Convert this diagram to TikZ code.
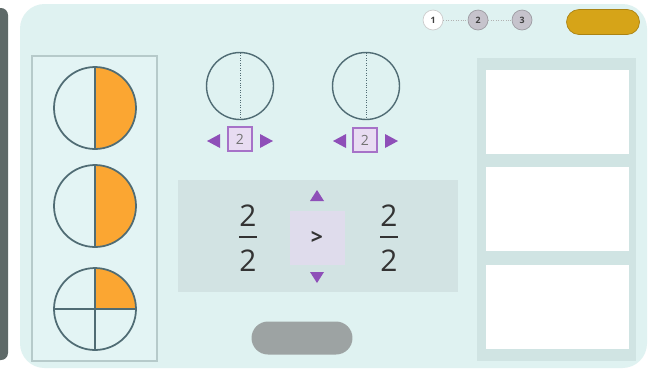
\documentclass[tikz,border=0pt]{standalone}
\usepackage{fontspec}
\setmainfont{Open Sans}
\definecolor{panel}{HTML}{DFF2F1}
\definecolor{strip}{HTML}{5E6968}
\definecolor{trayfill}{HTML}{E3F4F4}
\definecolor{trayrim}{HTML}{B6CACA}
\definecolor{rim}{HTML}{506C74}
\definecolor{part}{HTML}{FBA632}
\definecolor{cmpfill}{HTML}{D2E3E3}
\definecolor{lav}{HTML}{DFDCEC}
\definecolor{violet}{HTML}{8E4FB8}
\definecolor{boxrim}{HTML}{A672C8}
\definecolor{boxfill}{HTML}{E8DCF2}
\definecolor{stepgray}{HTML}{C6C3CC}
\definecolor{gold}{HTML}{D6A418}
\definecolor{btngray}{HTML}{9DA3A3}
\definecolor{colfill}{HTML}{D0E4E3}

\begin{document}
\begin{tikzpicture}[x=0.02cm,y=-0.02cm]
\tikzset{numbox/.style={draw=boxrim, fill=boxfill, line width=1pt, minimum size=0.48cm, inner sep=0pt, text=gray!90!black, font=\footnotesize},
stepnode/.style={circle, draw=#1!80!black, fill=#1, minimum size=0.4cm, inner sep=0pt, text=gray!50!black, font=\tiny\bfseries},
ansbox/.style={fill=white, minimum width=2.86cm, minimum height=1.68cm},
digit/.style={text=black!80, font=\fontsize{17}{20}\selectfont}}
\useasboundingbox (0,0) rectangle (651,369);
\fill[white] (0,0) rectangle (651,369);
\fill[strip, rounded corners=4pt] (-10,8) rectangle (8,360);
\fill[panel, rounded corners=14pt] (20,4) rectangle (647,368);
\filldraw[fill=trayfill, draw=trayrim, line width=0.6pt] (32,56) rectangle (157,361);
\begin{scope}
\clip (95,108) circle[radius=0.82cm];
\fill[part] (95,60) rectangle (140,160);
\end{scope}
\draw[rim, line width=1pt] (95,108) circle[radius=0.82cm] (95,67) -- (95,149);
\begin{scope}
\clip (95,206) circle[radius=0.82cm];
\fill[part] (95,160) rectangle (140,250);
\end{scope}
\draw[rim, line width=1pt] (95,206) circle[radius=0.82cm] (95,165) -- (95,247);
\begin{scope}
\clip (95,309) circle[radius=0.82cm];
\fill[part] (95,260) rectangle (140,309);
\end{scope}
\draw[rim, line width=1pt] (95,309) circle[radius=0.82cm] (95,268) -- (95,350) (54,309) -- (136,309);
\draw[rim, line width=0.8pt] (240,86) circle[radius=0.67cm];
\draw[rim, densely dotted] (240,53) -- (240,119);
\draw[rim, line width=0.8pt] (366,86) circle[radius=0.67cm];
\draw[rim, densely dotted] (366,53) -- (366,119);
\node[numbox] (n1) at (240,139) {2};
\node[numbox] (n2) at (365,140) {2};
\fill[violet] (207,141) -- (220,134) -- (220,148) -- cycle;
\fill[violet] (273,141) -- (260,134) -- (260,148) -- cycle;
\fill[violet] (333,141) -- (346,134) -- (346,148) -- cycle;
\fill[violet] (398,141) -- (385,134) -- (385,148) -- cycle;
\fill[cmpfill] (178,180) rectangle (458,292);
\fill[lav] (290,211) rectangle (345,265);
\node[digit] (top1) at (248,216) {2};
\node[digit] (bot1) at (248,261) {2};
\draw[black!80, line width=1.6pt] (239,237) -- (257,237);
\node[digit] (top2) at (389,216) {2};
\node[digit] (bot2) at (389,261) {2};
\draw[black!80, line width=1.6pt] (380,237) -- (398,237);
\node[text=black!80, font=\large\bfseries] (sign) at (317,238) {>};
\fill[violet] (317,190) -- (324,201) -- (310,201) -- cycle;
\fill[violet] (317,283) -- (324,272) -- (310,272) -- cycle;
\node[fill=btngray, rounded corners=0.33cm, minimum width=2.02cm, minimum height=0.66cm] (check) at (302,338) {};
\node[stepnode=white] (s1) at (433,20) {1};
\node[stepnode=stepgray] (s2) at (478,20) {2};
\node[stepnode=stepgray] (s3) at (522,20) {3};
\draw[gray!60, densely dotted] (s1) -- (s2);
\draw[gray!60, densely dotted] (s2) -- (s3);
\node[fill=gold, draw=gold!80!black, rounded corners=0.25cm, minimum width=1.46cm, minimum height=0.5cm] (go) at (603,22) {};
\fill[colfill] (477,58) rectangle (636,361);
\node[ansbox] (a1) at (557,112) {};
\node[ansbox] (a2) at (557,209) {};
\node[ansbox] (a3) at (557,307) {};
\end{tikzpicture}
\end{document}
